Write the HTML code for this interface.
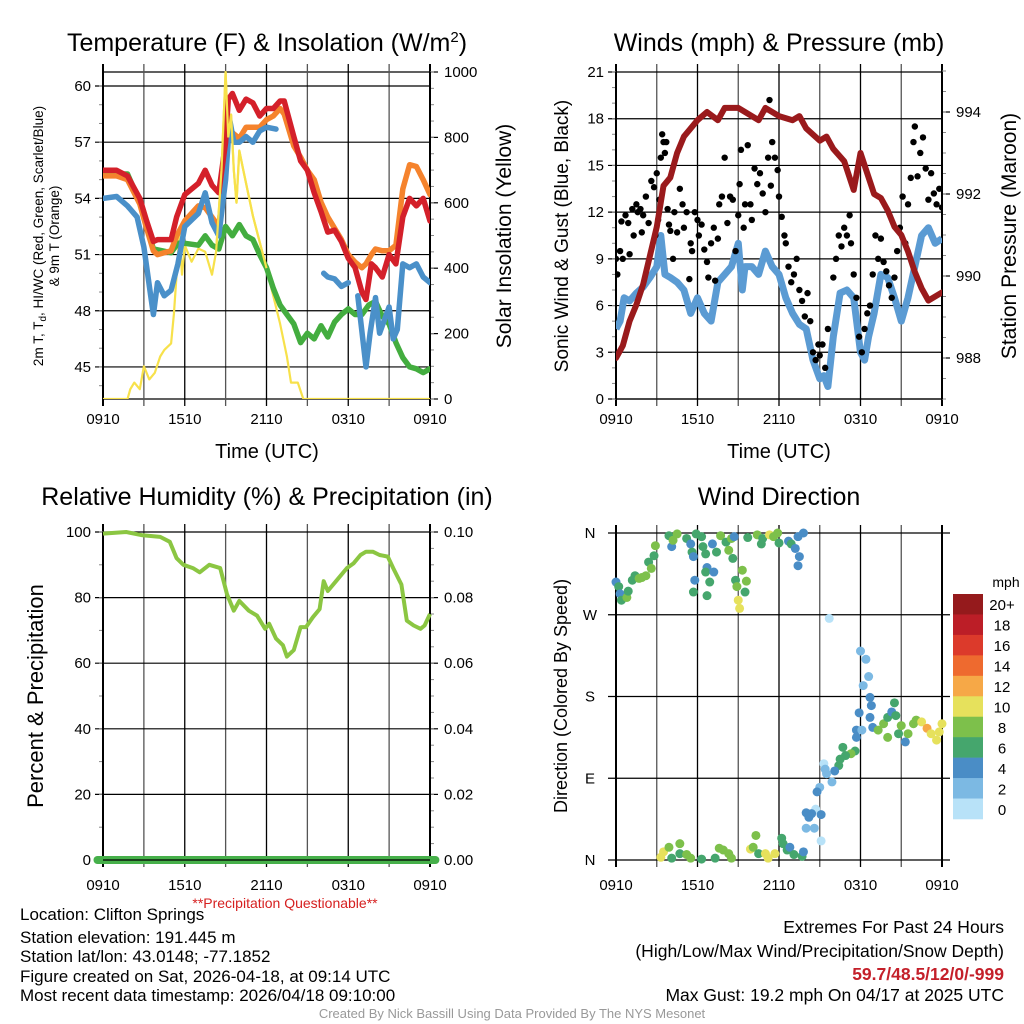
<!DOCTYPE html>
<html><head><meta charset="utf-8"><title>NYS Mesonet Clifton Springs</title>
<style>
html,body{margin:0;padding:0;background:#fff;}
svg{display:block;font-family:"Liberation Sans",sans-serif;}
</style></head>
<body>
<svg id="fig" width="1024" height="1024" viewBox="0 0 1024 1024" xmlns="http://www.w3.org/2000/svg">
<rect width="1024" height="1024" fill="#fff"/>
<g id="g1"></g>
<g id="g2"></g>
<g id="g3"></g>
<g id="g4"></g>
<g id="txt">
<text x="267" y="51" font-size="25" text-anchor="middle">Temperature (F) &amp; Insolation (W/m<tspan dy="-9" font-size="15">2</tspan><tspan dy="9">)</tspan></text>
<text x="779" y="51" font-size="25" text-anchor="middle">Winds (mph) &amp; Pressure (mb)</text>
<text x="267" y="505" font-size="25" text-anchor="middle">Relative Humidity (%) &amp; Precipitation (in)</text>
<text x="779" y="505" font-size="25" text-anchor="middle">Wind Direction</text>
<text x="267" y="458" font-size="20" text-anchor="middle">Time (UTC)</text>
<text x="779" y="458" font-size="20" text-anchor="middle">Time (UTC)</text>
<g transform="translate(43,236) rotate(-90)"><text font-size="13.5" text-anchor="middle">2m T, T<tspan dy="3" font-size="10">d</tspan><tspan dy="-3">, HI/WC (Red, Green, Scarlet/Blue)</tspan></text></g>
<g transform="translate(59,236) rotate(-90)"><text font-size="13.5" text-anchor="middle">&amp; 9m T (Orange)</text></g>
<g transform="translate(511,236) rotate(-90)"><text font-size="21" text-anchor="middle">Solar Insolation (Yellow)</text></g>
<g transform="translate(568,236) rotate(-90)"><text font-size="19" text-anchor="middle">Sonic Wind &amp; Gust (Blue, Black)</text></g>
<g transform="translate(1016,236) rotate(-90)"><text font-size="21" text-anchor="middle">Station Pressure (Maroon)</text></g>
<g transform="translate(43,696) rotate(-90)"><text font-size="22" text-anchor="middle">Percent &amp; Precipitation</text></g>
<g transform="translate(567,696) rotate(-90)"><text font-size="18" text-anchor="middle">Direction (Colored By Speed)</text></g>
<text x="285" y="908" font-size="14" fill="#d62020" text-anchor="middle">**Precipitation Questionable**</text>
<g font-size="17">
<text x="20" y="920">Location: Clifton Springs</text>
<text x="20" y="943">Station elevation: 191.445 m</text>
<text x="20" y="962">Station lat/lon: 43.0148; -77.1852</text>
<text x="20" y="982">Figure created on Sat, 2026-04-18, at 09:14 UTC</text>
<text x="20" y="1001">Most recent data timestamp: 2026/04/18 09:10:00</text>
</g>
<g font-size="17.5">
<text x="1004" y="933" text-anchor="end">Extremes For Past 24 Hours</text>
<text x="1004" y="957" text-anchor="end">(High/Low/Max Wind/Precipitation/Snow Depth)</text>
<text x="1004" y="980" text-anchor="end" font-weight="bold" fill="#c4202a">59.7/48.5/12/0/-999</text>
<text x="1004" y="1001" text-anchor="end">Max Gust: 19.2 mph On 04/17 at 2025 UTC</text>
</g>
<text x="512" y="1018" text-anchor="middle" font-size="13" fill="#999">Created By Nick Bassill Using Data Provided By The NYS Mesonet</text>
</g>
</svg>
<script>
// ---------- data ----------
const xTickLabels = ["0910","1510","2110","0310","0910"];
const tHours = [0,1,1.8,2.7,3.2,3.7,4,5,5.4,6,7,7.5,8,8.5,9,9.2,9.5,10,10.5,11,11.5,12,12.5,13,13.3,14,14.5,15,15.5,16,16.5,17,17.5,18,18.5,19,19.3,19.7,20,20.5,21,21.5,22,22.5,23,23.5,24];
const tempRed = [55.5,55.5,55.2,54,52.8,51.7,51.8,51.8,53,54.2,54.8,55.5,54.7,54.3,57,59.3,59.6,58.7,59.3,59.1,58.4,58.8,58.8,59.2,59.2,57.3,56,55.5,54.3,53.3,52.2,52.3,51.7,50.8,50.3,49,48.6,50.5,50.3,49.8,51,50.5,53,54,53.6,54,52.8];
const tempOrange = [55.2,55.2,55,53.7,52.4,51.2,51,51.2,52,52.8,53.6,53.5,53,52.5,55.5,57.5,57.5,57.2,57.8,57.8,57.8,58.2,58.4,58.8,58.5,56.8,56.2,55.5,55,53.8,53,52.4,51.8,51,50.6,50.3,50.5,51,51.3,51.2,51.2,51.5,54.5,55.8,55.7,55,54.2];
const gHours = [0,1.8,2.7,3.7,5,5.5,6,7,7.5,8,8.5,9,9.5,10,10.5,11,11.5,12,12.5,13,13.5,14,14.5,15,15.5,16,16.5,17,17.5,18,18.5,19,19.5,20,20.5,21,21.5,22,22.5,23,23.5,24];
const dewGreen = [55.3,55.3,53.8,51.3,51.1,51.6,51.6,51.5,52,51.5,51.3,52.5,52,52.6,52,51.8,51,50.3,49.2,48.3,47.8,47.3,46.3,46.8,46.5,47.2,46.6,47.4,47.8,48.1,47.8,47.8,48.3,48.5,47.7,47.3,46.3,45.5,45,44.9,44.7,44.9];
const bHours = [0,1,1.8,2.5,3,3.5,3.7,4,4.5,5,5.5,6,7,7.5,8,8.5,9,9.3,9.6,10,10.5,11,11.5,12,12.7,null,16.2,16.5,17,17.5,18,null,18.7,19.3,19.6,20,20.3,20.5,21,21.3,21.6,22,22.5,23,23.5,24];
const hiwcBlue = [54,54.1,53.6,53,51.4,48.8,47.8,49.5,48.8,49.1,50.5,52.5,53.2,54.3,52.7,52,55,58.2,57,57,57.3,57,57.6,57.8,57.7,null,50,49.8,49.7,49.3,49.5,null,48.8,45,46.8,48.7,46.8,47.2,48.2,46.5,47,50.5,50.3,50.5,49.8,49.5];
const insHours = [0,1.8,2,2.3,2.7,3,3.4,3.8,4.2,4.5,5,5.2,5.6,5.8,6,6.5,7,7.5,8,8.3,8.7,9,9.2,9.4,9.6,9.8,10,10.3,11,12,13,13.5,13.8,14.3,14.7,24];
const insolation = [0,0,30,50,30,100,60,80,130,150,170,260,500,380,470,420,460,450,380,450,700,1000,800,870,700,600,760,700,560,400,230,130,50,50,0,0];

const wHours = [0,0.3,0.6,1,1.5,2,2.5,3,3.3,3.6,4,4.5,5,5.5,6,6.5,7,7.5,8,8.5,9,9.3,9.5,10,10.5,11,11.5,12,12.5,13,13.5,14,14.5,15,15.3,15.6,16,16.5,17,17.5,18,18.3,18.6,19,19.5,20,20.5,21,21.5,22,22.5,23,23.5,24];
const windSpeed = [4.5,5,6.5,6.3,6.8,7.2,7.8,8.5,10.5,8,7.8,7.5,7,5.5,6.5,5.5,5,7.5,8,8.5,10,7,8.5,8.5,8,9.5,8.5,8,6.5,5.5,4.8,4.5,2.5,1.3,1.5,0.8,4,6.8,7,6.5,3,2.5,4,5.5,8,7.8,6.5,5,6.5,8.5,10.5,11,10,10.3];
const gustHours = [0,0.1,0.3,0.4,0.5,0.7,0.9,1,1.2,1.3,1.5,1.6,1.8,1.9,2,2.2,2.4,2.6,2.8,2.9,3,3.1,3.2,3.3,3.4,3.5,3.6,3.7,3.8,3.9,4,4.2,4.3,4.5,4.7,4.9,5,5.2,5.4,5.5,5.6,5.8,6,6.1,6.3,6.5,6.7,6.8,7,7.2,7.3,7.5,7.6,7.8,8,8.2,8.4,8.6,8.8,9,9.1,9.2,9.4,9.5,9.7,9.9,10,10.2,10.4,10.6,10.8,11,11.2,11.3,11.4,11.5,11.7,11.9,12,12.2,12.4,12.5,12.7,12.9,13.1,13.3,13.5,13.7,13.9,14.1,14.3,14.5,14.7,14.9,15,15.2,15.4,15.6,16,16.2,16.4,16.6,16.8,17,17.2,17.3,17.5,17.7,17.9,18.1,18.3,18.5,18.7,18.9,19.1,19.3,19.5,19.7,19.9,20.1,20.3,20.5,20.7,20.9,21.1,21.3,21.5,21.7,21.9,22,22.2,22.4,22.6,22.8,23,23.2,23.4,23.6,23.8,24];
const gustSpeed = [9,8,9.5,11.4,9,11.8,11.3,9.3,12.2,10.5,12.5,12,12.2,10.7,11.8,13,11.3,14,13.6,10.5,14.5,11.5,12.8,15.5,17,16.5,15.8,16.5,12.2,11.2,10.8,9,12,10.7,13.5,12.5,11,12,7.7,10,9.5,12,11.5,10.5,11.2,9.6,8.8,7.8,10,11,7.6,10.3,12.5,13,15.5,11.3,13,12.8,9.5,11.8,13.8,16,11,12.5,16.3,12.5,11.5,14.8,13.8,14.5,13.2,12,15.5,19.2,13.7,16.5,15.5,14.7,13,11.7,10.5,10,8.5,7.5,8,9,7,6.3,5.3,6.8,5,3,2.5,3.5,2.8,3.5,2,4.5,7.8,9,10.5,9.8,11,10.5,11.8,10,8,6.5,4,3,4.5,5.5,6,8,10.5,9,10.3,8.8,8.2,7.3,6.5,7.8,9.5,11,13,10,12.5,14.2,16.5,17.5,14.3,15.8,16.8,14.8,12.8,14.5,13.2,12.5,13.5,12.3];
const pHours = [0,0.5,1,1.5,2,2.5,3,3.5,4,4.5,5,6,6.7,7.5,8,9,10,10.5,11,12,13,13.5,14,15,15.5,16,16.8,17.5,18,18.5,19,19.5,20,20.5,21,21.5,22,22.5,23,24];
const pressure = [988,988.3,988.9,989.3,989.8,990.5,991.2,992.2,992.4,993,993.4,993.8,994,993.8,994.1,994.1,993.9,993.8,994.1,993.9,993.8,993.9,993.6,993.3,993.4,993.1,992.8,992.1,993,992.5,992,991.9,991.6,991.2,991,990.6,990.1,989.7,989.4,989.6];

const rhHours = [0,1.7,2.9,4.2,4.9,5.4,5.9,6.6,7.1,7.8,8.6,9.1,9.6,10,10.7,11.3,11.9,12.2,12.7,13.2,13.5,14,14.5,14.9,15.4,15.9,16.2,16.5,17.1,17.9,18.4,18.9,19.3,19.8,20.3,20.9,21.3,21.9,22.3,22.8,23.3,23.6,24];
const rhValues = [99.5,100,99,98.5,97,92,90,89,87.7,90,89,81,76,79,76,74.5,70.5,72,67.5,65.5,62,64,71,71,74,76.5,85,82,85,89,90.5,93,94,94,93,92.5,89,84,73,71.5,70.5,71.5,75];
const precipHours = [-0.4,24.4];
const precipValues = [0,0];

const dirHours = [0,0.2,0.3,0.4,0.8,0.9,1.2,1.4,1.7,1.9,2.2,2.4,2.6,2.8,2.9,3.9,4.1,4.2,4.5,5.2,5.5,5.6,5.7,5.8,5.7,5.9,6.3,6.4,6.6,6.7,6.6,7.1,7.2,6.9,6.7,7.4,7.7,8.1,8.3,8.5,8.6,8.7,8.8,8.9,9,9.1,9.3,9.5,9.6,9.7,10.4,10.7,10.8,11.3,11.6,11.9,12,12.7,12.9,13.2,13.4,13.5,13.4,13.8,15.7,
18,18.4,18.6,18.2,18.7,18.8,17.9,18.7,18.9,17.7,17.7,18.1,19.3,19.7,20,20.5,20.3,20.6,20.8,20,21,21.3,21.5,21.9,22.1,22.5,22.9,23.2,23.6,23.8,24,
17.6,17.3,16.9,16.7,16.5,16.4,16.1,15.9,15.5,15.3,15.4,15,14.8,14.7,15.1,14.4,14,14.2,14,14.6,15.1,14.2,
3.3,3.5,3.9,4.1,4.7,4.7,5.2,5.5,6.3,7.3,7.6,7.9,8.3,8.5,9.9,10.1,10.3,10.5,11,11.2,11.7,12.2,12.3,12.6,12.8,13.1,13.7,13.8];
const dirDegrees = [306,301,293,286,289,296,308,313,310,311,313,328,321,335,346,357,345,352,359,354,348,339,334,308,295,359,356,345,337,322,317,348,317,306,291,339,357,350,341,354,332,356,308,301,286,277,319,295,307,355,358,348,354,358,356,360,349,351,348,343,356,334,324,360,266,
230,221,202,192,179,170,162,157,146,143,135,143,143,150,157,173,163,159,139,135,148,130,139,150,154,152,145,139,132,141,150,
120,117,115,124,111,104,98,86,95,106,100,80,75,56,50,51,52,47,35,35,21,49,
3,9,14,2,18,7,6,2,1,2,13,11,7,2,12,14,27,7,7,2,7,24,18,11,14,6,4,9];
const dirSpeeds = [5,7,5,7,9,7,7,7,9,9,9,7,9,7,9,7,5,9,9,7,5,7,5,5,7,7,7,7,7,5,7,5,5,7,7,7,9,7,9,9,7,5,7,9,11,11,9,7,9,7,9,7,7,11,9,9,7,5,7,5,5,5,5,5,1,
3,3,3,3,5,5,5,5,5,5,5,3,9,9,7,7,5,7,7,9,9,5,9,9,9,11,13,11,11,11,11,
7,9,7,7,7,7,5,3,3,1,3,3,5,1,5,5,5,5,3,3,1,5,
11,11,9,7,9,7,9,9,7,7,9,9,9,9,11,9,9,7,11,11,11,7,7,7,5,7,7,5];
const speedBins = ["0","2","4","6","8","10","12","14","16","18","20+"];
const speedColors = ["#b8e2f8","#7cb9e3","#4a8dc6","#45a66d","#7dc04b","#e6e15c","#f6a847","#ee6a2f","#dc3a2b","#bc1e27","#951a1c"];

// ---------- helpers ----------
const NS="http://www.w3.org/2000/svg";
function mk(parent,tag,attrs){const e=document.createElementNS(NS,tag);for(const k in attrs)e.setAttribute(k,attrs[k]);parent.appendChild(e);return e;}
function txt(parent,x,y,s,size,anchor,name){const t=mk(parent,"text",{x:x,y:y,"font-size":size,"text-anchor":anchor});t.textContent=s;


return t;}
function pathFrom(xs,ys,fx,fy){let d="",pen=false;for(let i=0;i<xs.length;i++){if(xs[i]===null||ys[i]===null){pen=false;continue;}d+=(pen?"L":"M")+fx(xs[i]).toFixed(1)+","+fy(ys[i]).toFixed(1);pen=true;}return d;}

function frame(g,L,R,T,B,X,yMaj,Y,yFmt,yMin,rMaj,RY,rFmt,rMin,labelY){
  for(let h=0;h<=24;h+=3){const x=X(h);
    const l=mk(g,"line",{x1:x,y1:T-8,x2:x,y2:B+7,stroke:(h%6===0?"#000":"#555"),"stroke-width":(h===0||h===24)?2:1.3});
    
    }
  yMaj.forEach(v=>{const y=Y(v);
    const l=mk(g,"line",{x1:L-8,y1:y,x2:R,y2:y,stroke:"#000","stroke-width":1.2});
    
    
    txt(g,L-12,y+5,yFmt(v),15,"end","y-tick-label");});
  yMin.forEach(v=>{mk(g,"line",{x1:L-4,y1:Y(v),x2:L,y2:Y(v),stroke:"#888","stroke-width":1});});
  if(rMaj){rMaj.forEach(v=>{const y=RY(v);mk(g,"line",{x1:R,y1:y,x2:R+8,y2:y,stroke:"#000","stroke-width":1.2});
    txt(g,R+14,y+5,rFmt(v),15,"start","right-tick-label");});
    rMin.forEach(v=>{mk(g,"line",{x1:R,y1:RY(v),x2:R+4,y2:RY(v),stroke:"#888","stroke-width":1});});}
  mk(g,"line",{x1:L,y1:T,x2:L,y2:B,stroke:"#000","stroke-width":2});
  mk(g,"line",{x1:R,y1:T,x2:R,y2:B,stroke:"#000","stroke-width":2});
  xTickLabels.forEach((s,i)=>txt(g,X(i*6),labelY,s,15,"middle","x-tick-label"));
}
function range(a,b,s){const r=[];for(let v=a;v<=b+1e-9;v+=s)r.push(+v.toFixed(4));return r;}

// ---------- panel 1: temperature ----------
(function(){
const g=document.getElementById("g1");
const L=103,R=430,T=72,B=399;
const X=h=>L+h*(R-L)/24, Y=v=>86+(60-v)*18.73, IY=v=>B-v*(B-T)/1000;
mk(g,"line",{x1:L,y1:T,x2:R,y2:T,stroke:"#000","stroke-width":1.2});
mk(g,"line",{x1:L,y1:B,x2:R,y2:B,stroke:"#000","stroke-width":1.2});
frame(g,L,R,T,B,X,[45,48,51,54,57,60],Y,v=>""+v,range(44,60,1),range(0,1000,200),IY,v=>""+v,range(0,1000,50),424);
const clip=mk(g,"clipPath",{id:"c1"});mk(clip,"rect",{x:L,y:T-10,width:R-L,height:B-T+10});
const s=mk(g,"g",{"clip-path":"url(#c1)"});
const ins=mk(s,"path",{d:pathFrom(insHours,insolation,X,IY),fill:"none",stroke:"#f7e14b","stroke-width":2.2,"stroke-linejoin":"round"});

const series=[[gHours,dewGreen,"#43ad3f","dewpoint-line"],[tHours,tempOrange,"#f5832d","temp-9m-line"],[bHours,hiwcBlue,"#4a90c9","heat-index-line"],[tHours,tempRed,"#d4202a","temp-2m-line"]];
series.forEach(([xs,ys,c,n])=>{const p=mk(s,"path",{d:pathFrom(xs,ys,X,Y),fill:"none",stroke:c,"stroke-width":5.5,"stroke-linejoin":"round","stroke-linecap":"round"});
});
mk(s,"path",{d:pathFrom(insHours.slice(19,30),insolation.slice(19,30),X,IY),fill:"none",stroke:"#f7e14b","stroke-width":2.2});
})();

// ---------- panel 2: winds ----------
(function(){
const g=document.getElementById("g2");
const L=616,R=942,T=72,B=399;
const X=h=>L+h*(R-L)/24, Y=v=>B-v*(B-T)/21, PY=v=>358-(v-988)*41;
mk(g,"line",{x1:L,y1:B,x2:R,y2:B,stroke:"#000","stroke-width":1.2});
frame(g,L,R,T,B,X,range(0,21,3),Y,v=>""+v,range(0,21,1),[988,990,992,994],PY,v=>""+v,range(987,995,0.5),424);
const clip=mk(g,"clipPath",{id:"c2"});mk(clip,"rect",{x:L,y:T,width:R-L,height:B-T});
const s=mk(g,"g",{"clip-path":"url(#c2)"});
const w=mk(s,"path",{d:pathFrom(wHours,windSpeed,X,Y),fill:"none",stroke:"#5b9bd3","stroke-width":7,"stroke-linejoin":"round"});

gustHours.forEach((h,i)=>{const c=mk(s,"circle",{cx:X(h),cy:Y(gustSpeed[i]),r:3.2,fill:"#000"});

});
const p=mk(s,"path",{d:pathFrom(pHours,pressure,X,PY),fill:"none",stroke:"#9a1a1c","stroke-width":6,"stroke-linejoin":"round","stroke-linecap":"round"});

})();

// ---------- panel 3: RH ----------
(function(){
const g=document.getElementById("g3");
const L=103,R=430,T=532,B=860;
const X=h=>L+h*(R-L)/24, Y=v=>B-v*(B-T)/100, PY=v=>B-v*(B-T)/0.1;
frame(g,L,R,T,B,X,range(0,100,20),Y,v=>""+v,range(0,100,10),range(0,0.1,0.02),PY,v=>v.toFixed(2),range(0,0.1,0.005),890);
const rh=mk(g,"path",{d:pathFrom(rhHours,rhValues,X,Y),fill:"none",stroke:"#8bc642","stroke-width":4,"stroke-linejoin":"round"});

const pr=mk(g,"path",{d:pathFrom(precipHours,precipValues,X,PY),fill:"none",stroke:"#46b04a","stroke-width":8,"stroke-linecap":"round"});

mk(g,"line",{x1:L,y1:B,x2:R,y2:B,stroke:"#000","stroke-width":1.2});
})();

// ---------- panel 4: wind direction ----------
(function(){
const g=document.getElementById("g4");
const L=616,R=942,T=533,B=860;
const X=h=>L+h*(R-L)/24, Y=d=>B-d*(B-T)/360;
const dirLabels=["N","E","S","W","N"];
for(let h=0;h<=24;h+=3){const l=mk(g,"line",{x1:X(h),y1:T-8,x2:X(h),y2:B+7,stroke:(h%6===0?"#000":"#555"),"stroke-width":(h===0||h===24)?2:1.3});
}
dirLabels.forEach((s,i)=>{const y=Y(i*90);mk(g,"line",{x1:L-8,y1:y,x2:R+8,y2:y,stroke:"#000","stroke-width":1.2});
txt(g,L-26,y+5,s,15,"middle","direction-tick-label");});
xTickLabels.forEach((s,i)=>txt(g,X(i*6),890,s,15,"middle","x-tick-label"));
dirHours.forEach((h,i)=>{const bin=Math.min(10,Math.floor(dirSpeeds[i]/2));
const c=mk(g,"circle",{cx:X(h),cy:Y(dirDegrees[i]),r:4.5,fill:speedColors[bin]});

});
const cb=mk(g,"g",{});

const top=594,h=(819-594)/11;
speedBins.forEach((s,i)=>{const k=10-i;
const r=mk(cb,"rect",{x:953,y:top+i*h,width:30,height:h+0.3,fill:speedColors[k]});

txt(cb,1002,top+i*h+h/2+6,speedBins[k],15,"middle","colorbar-label");});
txt(cb,1006,587,"mph",14,"middle","colorbar-title");
})();
</script>
</body></html>
